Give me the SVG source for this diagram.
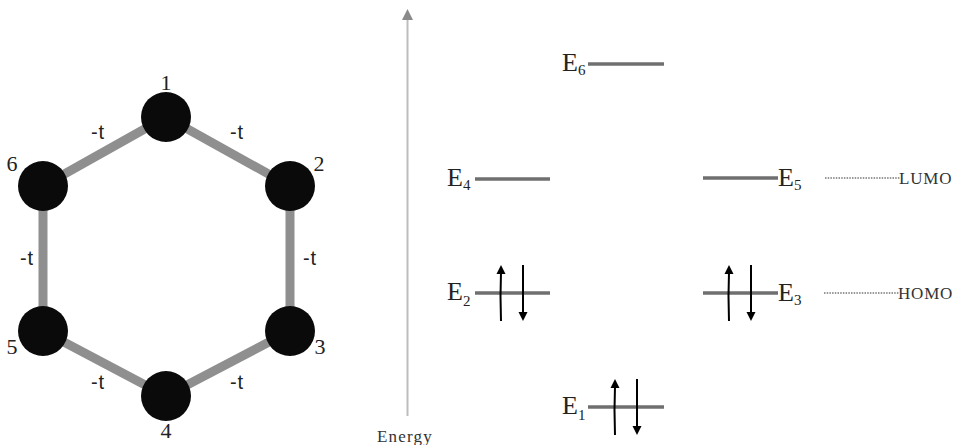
<svg xmlns="http://www.w3.org/2000/svg" width="957" height="445" viewBox="0 0 957 445">
<defs>
<style>
.bond{stroke:#8f8f8f;stroke-width:9;stroke-linecap:round}
.atom{fill:#0a0a0a}
.num{font-family:"Liberation Serif","DejaVu Serif",serif;font-size:22px;fill:#222;text-anchor:middle}
.hop{font-family:"Liberation Sans","DejaVu Sans",sans-serif;font-size:20px;fill:#222;text-anchor:middle;letter-spacing:1px}
.lvl{stroke:#6f6f6f;stroke-width:3.5}
.en{font-family:"Liberation Serif","DejaVu Serif",serif;font-size:26px;fill:#222}
.sub{font-size:15px}
.spin{stroke:#000;stroke-width:2;fill:none}
.head{fill:#000}
.dot{stroke:#333;stroke-width:1.2;stroke-dasharray:1.5 1.2}
.tag{font-family:"Liberation Serif","DejaVu Serif",serif;font-size:17px;fill:#333;letter-spacing:0.8px}
</style>
</defs>
<rect width="957" height="445" fill="#fff"/>
<g id="connectors">
<line class="bond" x1="166" y1="117" x2="290" y2="186"/>
<line class="bond" x1="290" y1="186" x2="290" y2="331"/>
<line class="bond" x1="290" y1="331" x2="166" y2="396"/>
<line class="bond" x1="166" y1="396" x2="43" y2="331"/>
<line class="bond" x1="43" y1="331" x2="43" y2="186"/>
<line class="bond" x1="43" y1="186" x2="166" y2="117"/>
<text class="hop" x="98" y="139">-t</text>
<text class="hop" x="237" y="139">-t</text>
<text class="hop" x="27" y="265">-t</text>
<text class="hop" x="310" y="265">-t</text>
<text class="hop" x="98" y="389">-t</text>
<text class="hop" x="237" y="389">-t</text>
</g>
<g id="atom1"><circle class="atom" cx="166" cy="117" r="25"/><text class="num" x="166" y="90">1</text></g>
<g id="atom2"><circle class="atom" cx="290" cy="186" r="25"/><text class="num" x="319" y="171">2</text></g>
<g id="atom3"><circle class="atom" cx="290" cy="331" r="25"/><text class="num" x="320" y="354">3</text></g>
<g id="atom4"><circle class="atom" cx="166" cy="396" r="25"/><text class="num" x="166" y="438">4</text></g>
<g id="atom5"><circle class="atom" cx="43" cy="331" r="25"/><text class="num" x="12" y="354">5</text></g>
<g id="atom6"><circle class="atom" cx="43" cy="186" r="25"/><text class="num" x="12" y="171">6</text></g>
<g id="axis">
<line x1="407.5" y1="416" x2="407.5" y2="18" stroke="#bdbdbd" stroke-width="2"/>
<path d="M402,20 L407.5,9 L413,20 Z" fill="#8a8a8a"/>
<text class="tag" x="405" y="442" text-anchor="middle" style="font-size:17px;letter-spacing:1.2px">Energy</text>
</g>
<g id="E6">
<line class="lvl" x1="588" y1="64" x2="664" y2="64"/>
<text class="en" x="562" y="71">E<tspan class="sub" dy="4">6</tspan></text>
</g>
<g id="E4">
<line class="lvl" x1="475" y1="179" x2="550" y2="179"/>
<text class="en" x="447" y="186">E<tspan class="sub" dy="4">4</tspan></text>
</g>
<g id="E5">
<line class="lvl" x1="703" y1="178" x2="778" y2="178"/>
<text class="en" x="778" y="186">E<tspan class="sub" dy="4">5</tspan></text>
<line class="dot" x1="825" y1="178" x2="900" y2="178"/>
<text class="tag" x="899" y="184">LUMO</text>
</g>
<g id="E2">
<line class="lvl" x1="475" y1="293" x2="550" y2="293"/>
<text class="en" x="447" y="300">E<tspan class="sub" dy="6">2</tspan></text>
<path class="spin" d="M501,321 Q500,296 501,272"/>
<path class="head" d="M496.5,274 L501,265 L505.5,274 Z"/>
<path class="spin" d="M523,265 L523,314"/>
<path class="head" d="M518.5,312 L523,321 L527.5,312 Z"/>
</g>
<g id="E3">
<line class="lvl" x1="703" y1="293" x2="778" y2="293"/>
<text class="en" x="778" y="301">E<tspan class="sub" dy="4">3</tspan></text>
<path class="spin" d="M729,321 Q728,296 729,272"/>
<path class="head" d="M724.5,274 L729,265 L733.5,274 Z"/>
<path class="spin" d="M751,265 L751,314"/>
<path class="head" d="M746.5,312 L751,321 L755.5,312 Z"/>
<line class="dot" x1="824" y1="293" x2="899" y2="293"/>
<text class="tag" x="898" y="299">HOMO</text>
</g>
<g id="E1">
<line class="lvl" x1="588" y1="407" x2="664" y2="407"/>
<text class="en" x="562" y="414">E<tspan class="sub" dy="6">1</tspan></text>
<path class="spin" d="M615,435 Q614,410 615,386"/>
<path class="head" d="M610.5,388 L615,379 L619.5,388 Z"/>
<path class="spin" d="M637,379 L637,428"/>
<path class="head" d="M632.5,426 L637,435 L641.5,426 Z"/>
</g>
</svg>
